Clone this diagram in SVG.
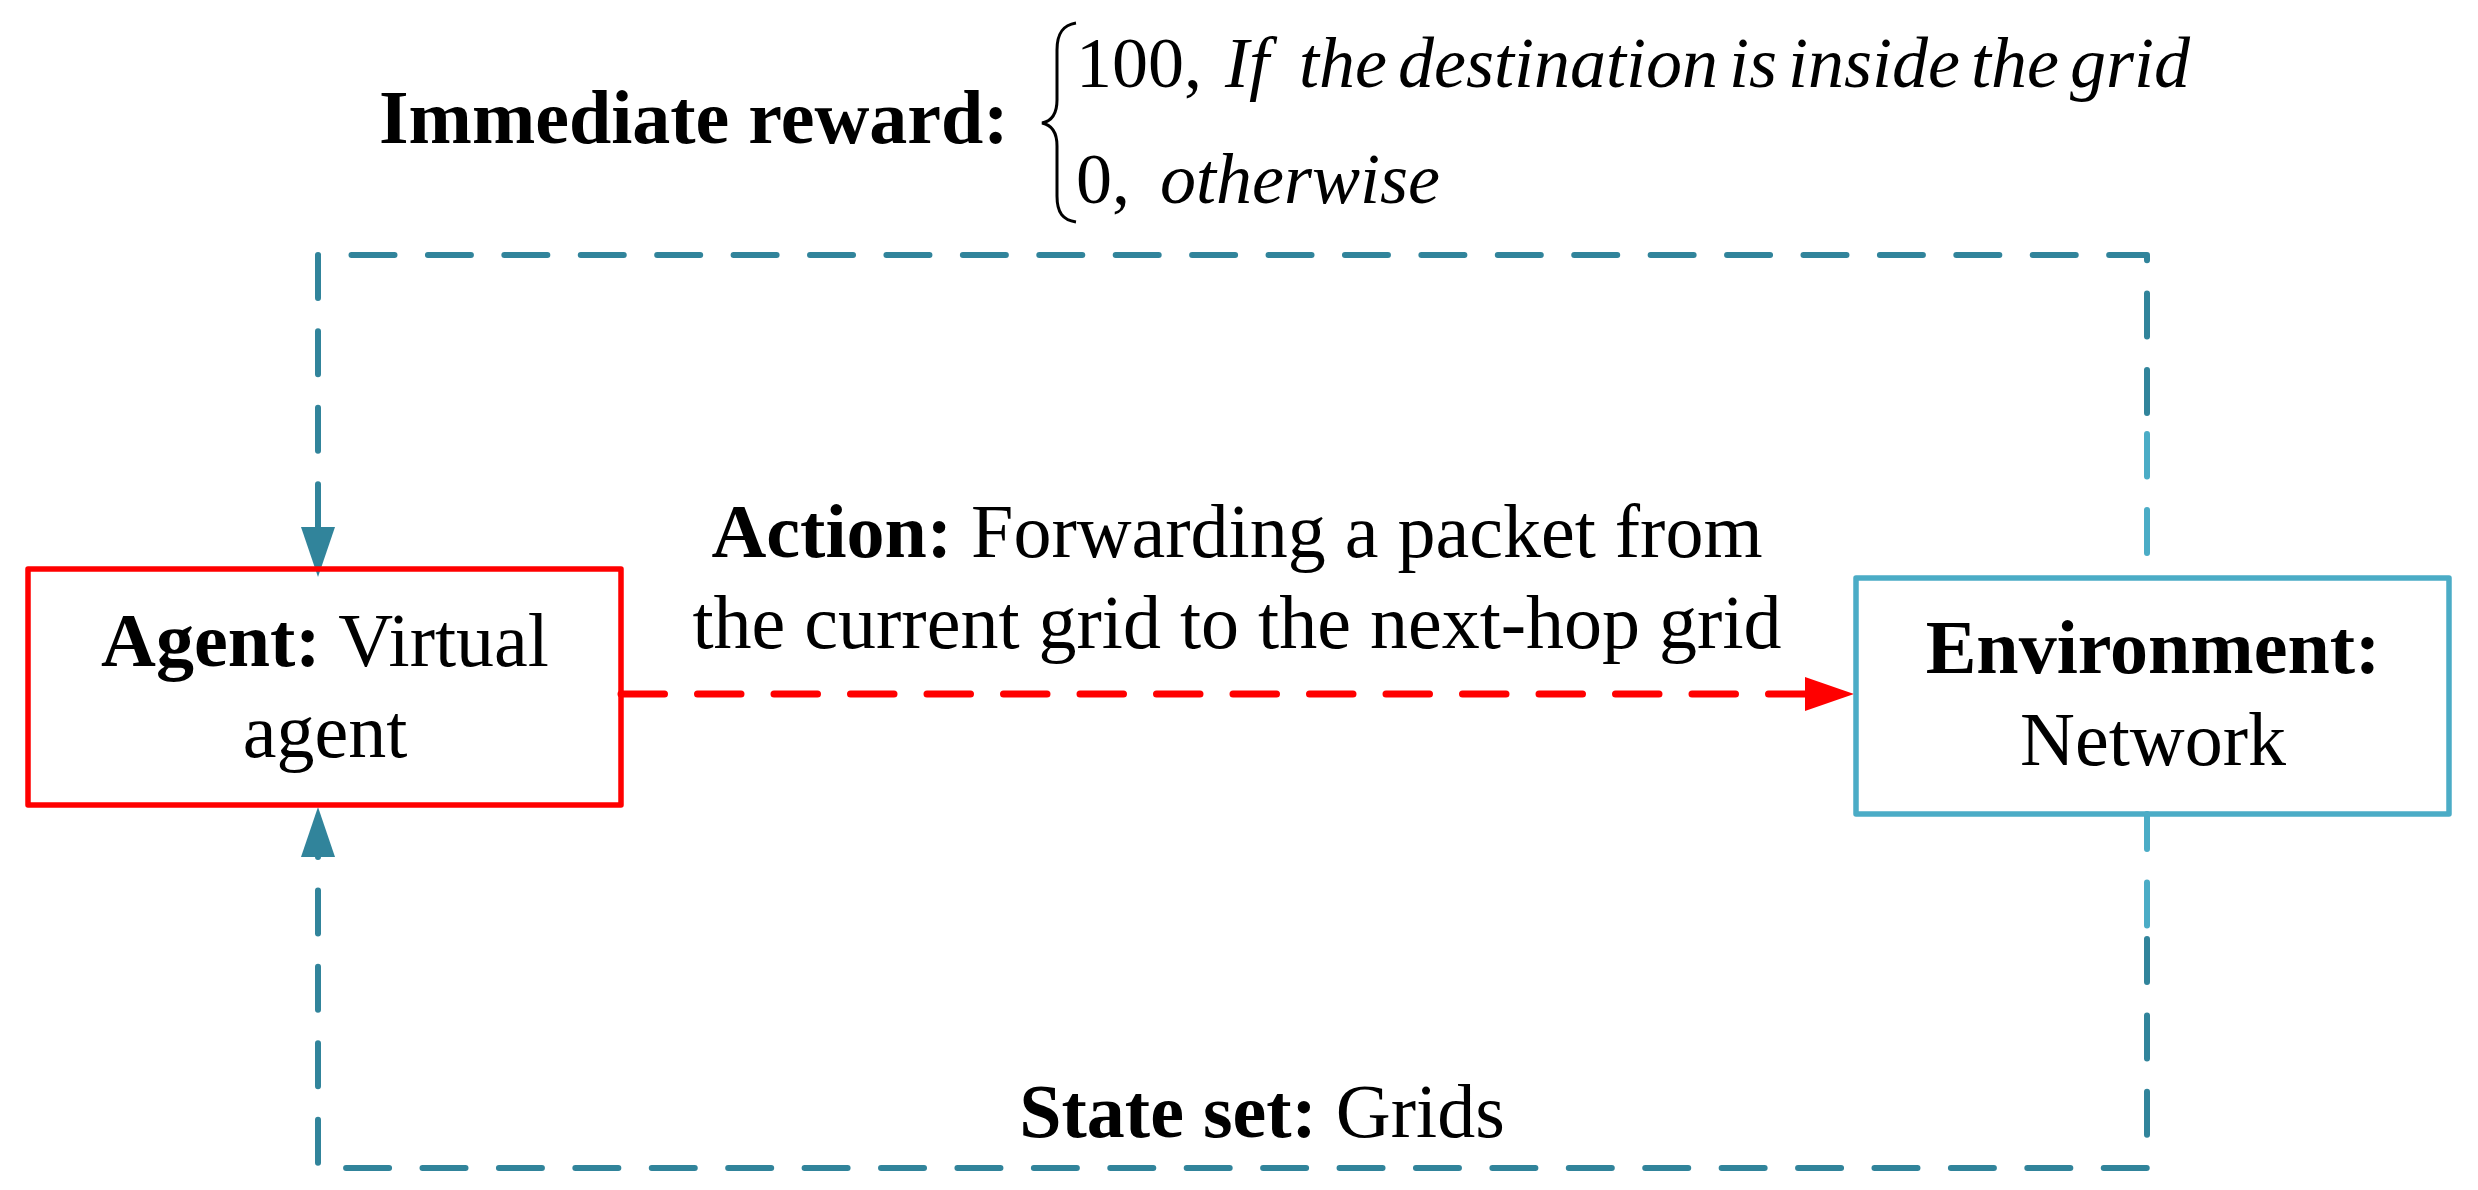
<svg xmlns="http://www.w3.org/2000/svg" width="2478" height="1190" viewBox="0 0 2478 1190">
<style>
text{font-family:"Liberation Serif","Times New Roman",serif;fill:#000;font-size:76px}
.b{font-weight:bold}
.it{font-style:italic;font-size:72px}
.num{font-size:72px}
.dark{fill:none;stroke:#31849B;stroke-width:6;stroke-linecap:round;stroke-linejoin:round;stroke-dasharray:43 33.42}
.light{fill:none;stroke:#4BACC6;stroke-width:6;stroke-linecap:round;stroke-dasharray:43 33.42}
.red{fill:none;stroke:#FF0000;stroke-width:7;stroke-linecap:round;stroke-dasharray:43.5 33}
</style>
<defs>
<marker id="tealArrow" markerUnits="userSpaceOnUse" markerWidth="50" markerHeight="34" viewBox="0 0 50 34" refX="13" refY="17" orient="auto" overflow="visible">
<path d="M0,0 L50,17 L0,34 z" fill="#31849B"/>
</marker>
<marker id="tealArrowB" markerUnits="userSpaceOnUse" markerWidth="50" markerHeight="34" viewBox="0 0 50 34" refX="12" refY="17" orient="auto" overflow="visible">
<path d="M0,0 L50,17 L0,34 z" fill="#31849B"/>
</marker>
<marker id="redArrow" markerUnits="userSpaceOnUse" markerWidth="49" markerHeight="34" viewBox="0 0 49 34" refX="15" refY="17" orient="auto" overflow="visible">
<path d="M0,0 L49,17 L0,34 z" fill="#FF0000"/>
</marker>
</defs>
<rect width="2478" height="1190" fill="#fff"/>

<g id="reward-label">
<text x="379" y="143" class="b">Immediate reward:</text>
<path d="M1076,23 C1063,25 1057,33 1057,50 L1057,100 C1057,114 1052,121 1042,123 C1052,125 1057,132 1057,146 L1057,196 C1057,213 1063,220 1076,222" fill="none" stroke="#000" stroke-width="3"/>
<text y="87" class="num"><tspan x="1076">100, </tspan><tspan class="it" x="1225">If </tspan><tspan class="it" x="1299" word-spacing="-7">the destination is inside the grid</tspan></text>
<text y="203" class="num"><tspan x="1076">0, </tspan><tspan class="it" x="1160">otherwise</tspan></text>
</g>

<g id="connectors">
<path class="light" d="M2147,577 V434" stroke-dashoffset="52.42"/>
<path class="dark" d="M2147,413 V255 H318 V540" marker-end="url(#tealArrow)"/>
<path class="light" d="M2147,814 V926" stroke-dashoffset="8"/>
<path class="dark" d="M2147,939 V1168 H318 V845" marker-end="url(#tealArrowB)"/>
<path class="red" d="M621,694 H1820" marker-end="url(#redArrow)"/>
</g>

<g id="agent">
<rect x="28" y="569" width="593" height="236" fill="none" stroke="#FF0000" stroke-width="5.5" stroke-linejoin="round"/>
<text x="325" y="666" text-anchor="middle"><tspan class="b">Agent:</tspan> Virtual</text>
<text x="325" y="757" text-anchor="middle">agent</text>
</g>

<g id="environment">
<rect x="1856" y="578" width="593" height="236" fill="none" stroke="#4BACC6" stroke-width="5.5" stroke-linejoin="round"/>
<text x="2153" y="673" text-anchor="middle" class="b">Environment:</text>
<text x="2153" y="765" text-anchor="middle">Network</text>
</g>

<g id="action-label">
<text x="1237" y="557" text-anchor="middle"><tspan class="b">Action:</tspan> Forwarding a packet from</text>
<text x="1237" y="648" text-anchor="middle">the current grid to the next-hop grid</text>
</g>

<g id="state-label">
<text x="1262" y="1137" text-anchor="middle"><tspan class="b">State set:</tspan> Grids</text>
</g>
</svg>
